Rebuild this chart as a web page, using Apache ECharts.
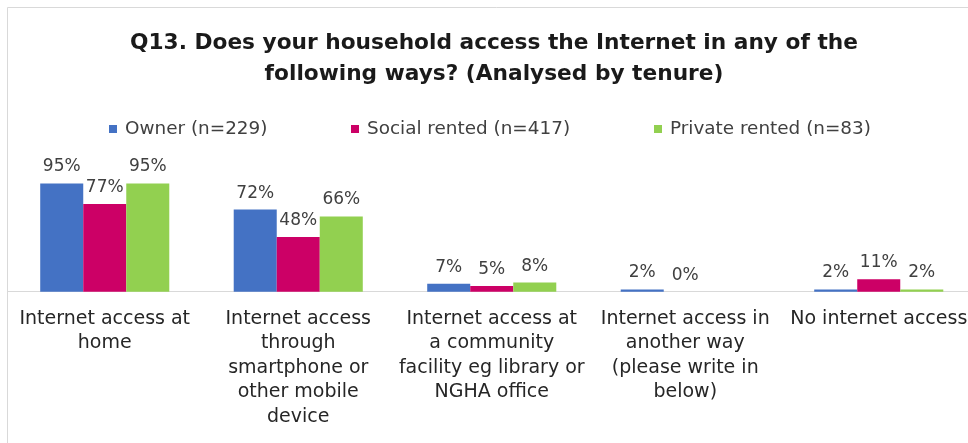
<!DOCTYPE html>
<html>
<head>
<meta charset="utf-8">
<script src="https://cdn.jsdelivr.net/npm/echarts@6/dist/echarts.min.js"></script>
<style>
  html, body { margin: 0; padding: 0; background: #fff; overflow: hidden; }
  #chart { width: 984px; height: 443px; }
</style>
</head>
<body>
<div id="chart"></div>
<script>
// Internet access by household tenure (percent of respondents)
const categories = [
  'Internet access at\nhome',
  'Internet access\nthrough\nsmartphone or\nother mobile\ndevice',
  'Internet access at\na community\nfacility eg library or\nNGHA office',
  'Internet access in\nanother way\n(please write in\nbelow)',
  'No internet access'
];
const ownerValues = [95, 72, 7, 2, 2];
const socialValues = [77, 48, 5, 0, 11];
const privateValues = [95, 66, 8, null, 2];
const seriesNames = ['Owner (n=229)', 'Social rented (n=417)', 'Private rented (n=83)'];
const titleText = 'Q13. Does your household access the Internet in any of the\nfollowing ways? (Analysed by tenure)';

const FONT = 'DejaVu Sans';
const colors = ['#4472C4', '#CC0066', '#92D050'];

const chart = echarts.init(document.getElementById('chart'), null, { renderer: 'canvas' });

const labelStyle = {
  show: true,
  position: 'top',
  distance: 8,
  formatter: p => p.value + '%',
  fontFamily: FONT,
  fontSize: 17,
  color: '#404040'
};

function legendAt(name, left) {
  return {
    data: [name],
    left: left,
    top: 115,
    icon: 'rect',
    itemWidth: 8,
    itemHeight: 8,
    itemGap: 0,
    textStyle: { fontFamily: FONT, fontSize: 18.4, color: '#404040', padding: [0, 0, 0, 3] }
  };
}

chart.setOption({
  animation: false,
  backgroundColor: '#ffffff',
  color: colors,
  title: {
    text: titleText,
    left: 489,
    textAlign: 'center',
    top: 23,
    textStyle: {
      fontFamily: FONT,
      fontSize: 21.7,
      fontWeight: 'bold',
      color: '#1a1a1a',
      lineHeight: 31
    }
  },
  legend: [
    legendAt(seriesNames[0], 104),
    legendAt(seriesNames[1], 346),
    legendAt(seriesNames[2], 649)
  ],
  graphic: [{
    type: 'rect',
    shape: { x: 7.5, y: 7.5, width: 1000, height: 500 },
    style: { fill: 'none', stroke: '#d9d9d9', lineWidth: 1 },
    silent: true,
    z: -1
  }],
  grid: { left: 8, top: 177.7, width: 967.5, height: 114, containLabel: false },
  xAxis: {
    type: 'category',
    data: categories,
    axisLine: { lineStyle: { color: '#d9d9d9', width: 1 } },
    axisTick: { show: false },
    axisLabel: {
      interval: 0,
      margin: 15,
      lineHeight: 24.5,
      fontFamily: FONT,
      fontSize: 19,
      color: '#262626'
    }
  },
  yAxis: {
    type: 'value',
    min: 0,
    max: 100,
    show: false,
    splitLine: { show: false }
  },
  series: [
    { name: seriesNames[0], type: 'bar', data: ownerValues, barGap: '0%', barCategoryGap: '33.3%', label: labelStyle },
    { name: seriesNames[1], type: 'bar', data: socialValues, barGap: '0%', barCategoryGap: '33.3%', label: labelStyle },
    { name: seriesNames[2], type: 'bar', data: privateValues, barGap: '0%', barCategoryGap: '33.3%', label: labelStyle }
  ]
});
</script>
</body>
</html>
